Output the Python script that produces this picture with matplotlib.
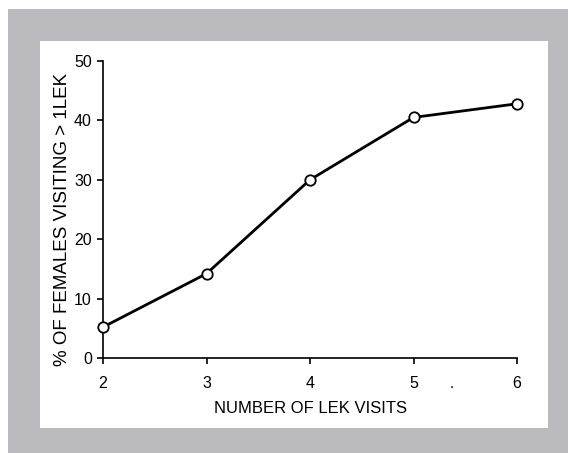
import matplotlib.pyplot as plt
from matplotlib.patches import Rectangle

plt.rcParams['font.family'] = ['Liberation Sans', 'DejaVu Sans']

visits = [2, 3, 4, 5, 6]
pct_multi = [5.2, 14.2, 30.0, 40.5, 42.8]
x_ticks = [2, 3, 4, 5, 6]
y_ticks = [0, 10, 20, 30, 40, 50]

W, H = 568, 453
fig = plt.figure(figsize=(W / 100, H / 100), dpi=100, facecolor='white')

# scanned page: grey border and white panel
fig.patches.append(Rectangle((8 / W, 0), 1 - 8 / W, 1 - 9 / H, transform=fig.transFigure,
                             facecolor='#bbbbbf', edgecolor='none', zorder=-2))
fig.patches.append(Rectangle((40 / W, 1 - 428 / H), (548 - 40) / W, (428 - 41) / H,
                             transform=fig.transFigure, facecolor='white',
                             edgecolor='none', zorder=-1))

ax = fig.add_axes([103 / W, 1 - 358 / H, (517 - 103) / W, (358 - 61) / H])
ax.patch.set_alpha(0)
ax.plot(visits, pct_multi, '-o', color='black', lw=2, ms=7.5, mfc='white', mec='black',
        mew=1.3, clip_on=False, zorder=3)

ax.set_xlim(2, 6)
ax.set_ylim(0, 50)
ax.set_xticks(x_ticks)
ax.set_yticks(y_ticks)
for s in ['top', 'right']:
    ax.spines[s].set_visible(False)
for s in ['left', 'bottom']:
    ax.spines[s].set_linewidth(1.2)
ax.tick_params(axis='both', direction='out', length=4, width=1.2, labelsize=11.5)
ax.tick_params(axis='x', pad=9)
ax.tick_params(axis='y', pad=4)

ax.set_xlabel('NUMBER OF LEK VISITS', fontsize=12, labelpad=7)
ax.set_ylabel('% OF FEMALES VISITING > 1LEK', fontsize=13.5)
ax.yaxis.set_label_coords(-0.077, 0.467)

# stray dot from the scan
ax.text(5.37, -4.3, '.', ha='center', va='center', fontsize=11, transform=ax.transData)

fig.savefig('out.png', dpi=100, facecolor='white')
